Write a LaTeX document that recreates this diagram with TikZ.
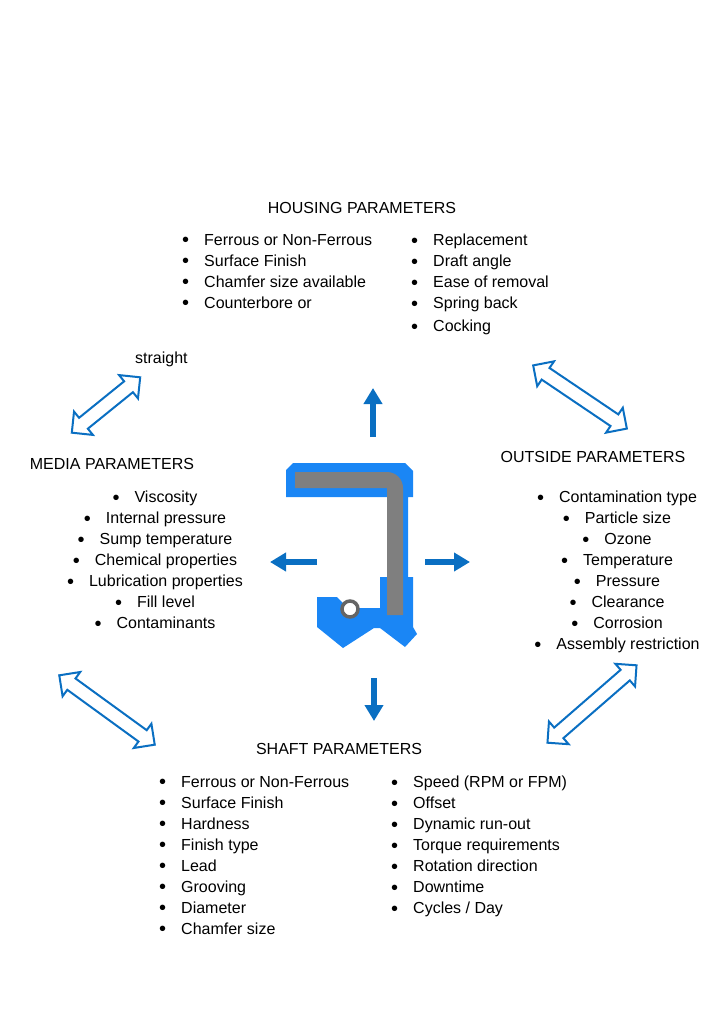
\documentclass[tikz,border=0pt]{standalone}
\usepackage{fontspec}
\setmainfont{Liberation Sans}
\usetikzlibrary{shapes.arrows,arrows.meta,positioning}
\definecolor{arrowblue}{HTML}{0A6FC2}
\definecolor{sealblue}{HTML}{1A86F5}
\definecolor{steelgray}{HTML}{7F7F7F}
\newcommand{\itm}{{\fontsize{20}{21}\selectfont\raisebox{-1.5pt}{\textbullet}}\hspace{15pt}}

\begin{document}
\begin{tikzpicture}[x=1pt, y=-1pt,
    every node/.style={font=\fontsize{16}{21}\selectfont, inner sep=0pt},
    title/.style={anchor=center},
    column/.style={anchor=north west, align=left},
    centred/.style={anchor=north, align=center},
    pushflow/.style={-{Triangle[length=16pt, width=18pt]}, arrowblue, line width=6pt},
    interact/.style={double arrow, draw=arrowblue, line width=2pt, fill=white,
        inner xsep=0pt, inner ysep=6pt, double arrow head extend=8pt}
]
\useasboundingbox (0,0) rectangle (724,1024);

% housing
\node[title] (housing) at (362,208) {HOUSING PARAMETERS};
\node[column] (houseL) at (182,234) {\itm Ferrous or Non-Ferrous\\ \itm Surface Finish\\ \itm Chamfer size available\\ \itm Counterbore or};
\node[column] (houseR) at (411,234) {\itm Replacement\\ \itm Draft angle\\ \itm Ease of removal\\ \itm Spring back\\[2pt] \itm Cocking};
\node[anchor=west] (straight) at (135,359) {straight};

% media
\node[title] (media) at (112,464) {MEDIA PARAMETERS};
\node[centred] (mediaL) at (155,491) {\itm Viscosity\\ \itm Internal pressure\\ \itm Sump temperature\\ \itm Chemical properties\\ \itm Lubrication properties\\ \itm Fill level\\ \itm Contaminants};

% outside
\node[title] (outside) at (593,457) {OUTSIDE PARAMETERS};
\node[centred] (outsideL) at (617,491) {\itm Contamination type\\ \itm Particle size\\ \itm Ozone\\ \itm Temperature\\ \itm Pressure\\ \itm Clearance\\ \itm Corrosion\\ \itm Assembly restriction};

% shaft
\node[title] (shaft) at (339,749) {SHAFT PARAMETERS};
\node[column] (shaftL) at (159,776) {\itm Ferrous or Non-Ferrous\\ \itm Surface Finish\\ \itm Hardness\\ \itm Finish type\\ \itm Lead\\ \itm Grooving\\ \itm Diameter\\ \itm Chamfer size};
\node[column] (shaftR) at (391,776) {\itm Speed (RPM or FPM)\\ \itm Offset\\ \itm Dynamic run-out\\ \itm Torque requirements\\ \itm Rotation direction\\ \itm Downtime\\ \itm Cycles / Day};

% seal
\fill[sealblue] (293,463) -- (405,463) -- (413,471) -- (413,497) -- (408,497) -- (408,577)
    -- (413,577) -- (413,627) -- (417,634) -- (405,647) -- (380,628) -- (374,628)
    -- (343,648) -- (317,627) -- (317,597) -- (337,597) -- (348,608) -- (380,608)
    -- (380,577) -- (387,577) -- (387,497) -- (286,497) -- (286,470) -- cycle;
\fill[steelgray, rounded corners=16pt] (295,472) -- (403,472) -- (403,560) [sharp corners] -- (403,615) -- (387,615) -- (387,488) -- (295,488) -- cycle;
\draw[steelgray!80!black, line width=3.5pt, fill=white] (350,609) circle[radius=8];

% pressure arrows
\coordinate (upA) at (373,437);   \coordinate (upB) at (373,388);
\coordinate (leftA) at (317,562); \coordinate (leftB) at (270,562);
\coordinate (rightA) at (425,562);\coordinate (rightB) at (470,562);
\coordinate (downA) at (374,678); \coordinate (downB) at (374,721);
\draw[pushflow] (upA) -- (upB);
\draw[pushflow] (leftA) -- (leftB);
\draw[pushflow] (rightA) -- (rightB);
\draw[pushflow] (downA) -- (downB);

% interactions
\node[interact, minimum height=88pt, rotate=39] (nw) at (106,405) {};
\node[interact, minimum height=113pt, rotate=-34] (ne) at (580,397) {};
\node[interact, minimum height=118pt, rotate=-36] (sw) at (107,710) {};
\node[interact, minimum height=118pt, rotate=41] (se) at (592,704) {};
\end{tikzpicture}
\end{document}
